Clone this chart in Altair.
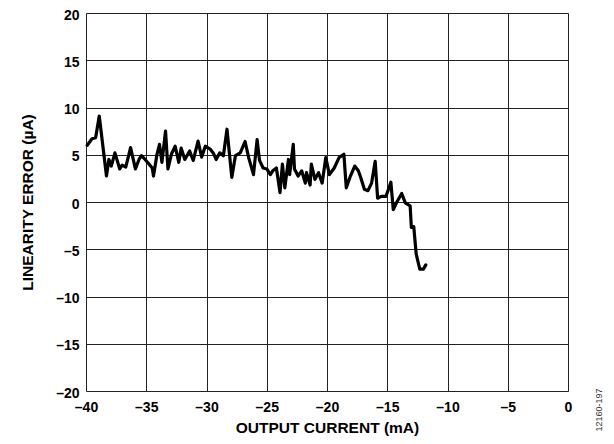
import altair as alt
import pandas as pd

current_ma = [-39.9, -39.5, -39.2, -38.9, -38.3, -38.1, -37.9, -37.6, -37.2, -37.0,
              -36.7, -36.3, -35.9, -35.6, -35.4, -35.1, -34.9, -34.5, -34.4, -34.1,
              -33.9, -33.7, -33.4, -33.2, -32.9, -32.6, -32.3, -32.1, -31.8, -31.4,
              -31.1, -30.7, -30.4, -30.1, -29.7, -29.4, -29.2, -28.9, -28.6, -28.3,
              -27.9, -27.6, -27.2, -26.8, -26.5, -26.1, -25.8, -25.6, -25.3, -25.0,
              -24.7, -24.5, -24.2, -23.9, -23.7, -23.5, -23.2, -23.1, -22.8, -22.7,
              -22.4, -22.1, -21.8, -21.7, -21.4, -21.3, -21.0, -20.7, -20.4, -20.1,
              -19.8, -19.4, -19.0, -18.6, -18.4, -18.1, -17.7, -17.4, -17.2, -16.9,
              -16.6, -16.3, -16.0, -15.8, -15.5, -15.1, -14.7, -14.5, -14.2, -13.8,
              -13.5, -13.1, -13.0, -12.8, -12.6, -12.3, -12.0, -11.8]
error_ua = [6.0, 6.7, 6.8, 9.1, 2.75, 4.5, 3.8, 5.2, 3.5, 3.9,
            3.7, 5.75, 3.5, 4.5, 4.9, 4.5, 4.2, 3.6, 2.75, 5.1,
            6.1, 4.2, 7.5, 3.5, 5.1, 5.9, 4.2, 5.7, 4.5, 5.4,
            4.4, 6.45, 4.75, 5.9, 5.6, 5.1, 4.5, 5.2, 4.9, 7.7,
            2.6, 4.9, 5.2, 6.4, 4.7, 2.9, 6.6, 4.4, 3.6, 3.5,
            2.9, 3.3, 3.6, 1.0, 4.0, 1.5, 4.5, 2.9, 6.1, 3.5,
            2.75, 3.3, 2.0, 3.1, 1.8, 4.0, 2.4, 3.1, 2.0, 4.7,
            2.9, 3.6, 4.7, 5.05, 1.5, 2.6, 3.8, 3.3, 2.6, 1.35,
            1.2, 2.0, 4.3, 0.4, 0.6, 0.6, 2.1, -0.8, 0.0, 0.9,
            -0.1, -0.4, -2.7, -2.6, -5.5, -7.1, -7.1, -6.65]

x_ticks = [-40, -35, -30, -25, -20, -15, -10, -5, 0]
y_ticks = [-20, -15, -10, -5, 0, 5, 10, 15, 20]

df = pd.DataFrame({"x": current_ma, "y": error_ua})

FONT = "Liberation Sans"
label_expr = "datum.value < 0 ? '\u2013' + abs(datum.value) : '' + datum.value"

line = alt.Chart(df).mark_line(color="black", strokeWidth=3.2, strokeJoin="round",
                               strokeCap="round").encode(
    x=alt.X("x:Q", scale=alt.Scale(domain=[-40, 0], nice=False),
            axis=alt.Axis(values=x_ticks, title="OUTPUT CURRENT (mA)", labelExpr=label_expr,
                          labelPadding=9, titlePadding=6, labelFlush=False,
                          titleFontSize=15.5)),
    y=alt.Y("y:Q", scale=alt.Scale(domain=[-20, 20], nice=False),
            axis=alt.Axis(values=y_ticks, title="LINEARITY ERROR (µA)", labelExpr=label_expr,
                          labelPadding=7, titlePadding=20, labelFlush=False, labelOffset=2,
                          titleFontSize=15.5)),
)

note = alt.Chart(pd.DataFrame({"t": ["12160-197"]})).mark_text(
    angle=270, font=FONT, fontSize=9, color="#333333", align="center", baseline="middle"
).encode(text="t:N", x=alt.value(513), y=alt.value(397))

chart = (line + note).properties(
    width=482, height=378,
    autosize=alt.AutoSizeParams(type="none"),
    padding={"left": 78, "top": 5, "right": 38, "bottom": 45},
).configure_view(stroke="black", strokeWidth=2).configure(background="white").configure_axis(
    grid=True, gridColor="#222222", gridWidth=1, ticks=False, domain=False,
    labelFont=FONT, labelFontSize=14, labelFontWeight=700, labelColor="black",
    titleFont=FONT, titleFontWeight=700, titleColor="black",
)

chart.save("out.html", embed_options={"renderer": "svg", "actions": False})
